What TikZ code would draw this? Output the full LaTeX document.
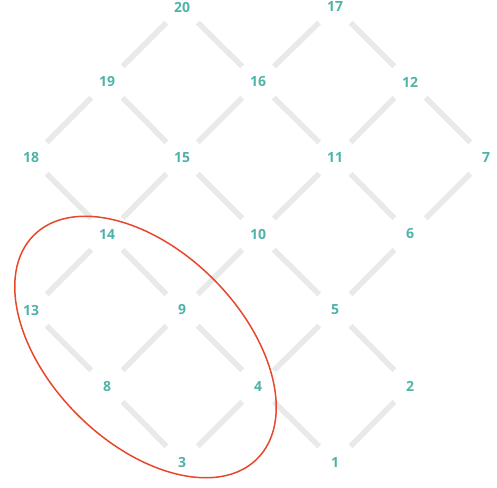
\documentclass[tikz,border=0pt]{standalone}
\usepackage{fontspec}
\setmainfont{Open Sans}
\definecolor{lbl}{HTML}{4FB3A9}
\definecolor{edg}{HTML}{E8E9E9}
\definecolor{ring}{HTML}{E8472B}
\begin{document}
\begin{tikzpicture}[x=1pt,y=-1pt,
  num/.style={circle,minimum size=44pt,inner sep=0pt,text=lbl,font=\fontsize{14}{14}\selectfont\bfseries},
  link/.style={draw=edg,line width=5.5pt}]
\useasboundingbox (0,0) rectangle (497,487);
\node[num] (n20) at (182,7) {20};
\node[num] (n17) at (335,7) {17};
\node[num] (n19) at (107,82) {19};
\node[num] (n16) at (258,82) {16};
\node[num] (n12) at (410,82) {12};
\node[num] (n18) at (31,158) {18};
\node[num] (n15) at (182,158) {15};
\node[num] (n11) at (335,158) {11};
\node[num] (n7) at (486,158) {7};
\node[num] (n14) at (107,234) {14};
\node[num] (n10) at (258,234) {10};
\node[num] (n6) at (410,234) {6};
\node[num] (n13) at (31,310) {13};
\node[num] (n9) at (182,310) {9};
\node[num] (n5) at (335,310) {5};
\node[num] (n8) at (107,386) {8};
\node[num] (n4) at (258,386) {4};
\node[num] (n2) at (410,386) {2};
\node[num] (n3) at (182,462) {3};
\node[num] (n1) at (335,462) {1};
\foreach \a/\b in {n20/n19,n20/n16,n17/n16,n17/n12,n19/n18,n19/n15,n16/n15,n16/n11,n12/n11,n12/n7,
  n18/n14,n15/n14,n15/n10,n11/n10,n11/n6,n7/n6,n14/n13,n14/n9,n10/n9,n10/n5,n6/n5,
  n13/n8,n9/n8,n9/n4,n5/n4,n5/n2,n8/n3,n4/n3,n4/n1,n2/n1}
  \draw[link] (\a) -- (\b);
\draw[ring,line width=1.5pt,rotate around={-45:(145.5,347)}] (145.5,347) ellipse [x radius=158pt,y radius=96pt];
\end{tikzpicture}
\end{document}
